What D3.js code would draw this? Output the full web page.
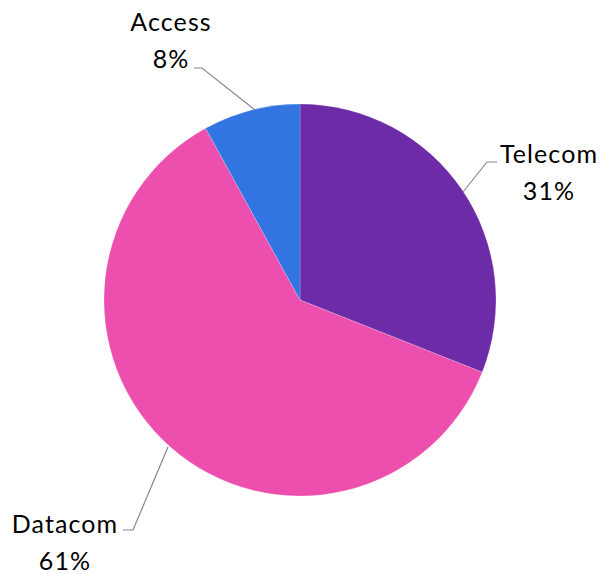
<!DOCTYPE html>
<html><head><meta charset="utf-8">
<script src="https://cdn.jsdelivr.net/npm/d3@7"></script>
<style>body{margin:0;background:#fff}</style>
</head><body>
<svg id="c" width="605" height="574"></svg>
<script>
const categories = ["Telecom", "Datacom", "Access"];
const values = [31, 61, 8];
const colors = ["#6E2BA8", "#EC4FAE", "#3274E1"];

const svg = d3.select("#c");
const cx = 300, cy = 300, r = 196;
const g = svg.append("g").attr("transform", `translate(${cx},${cy})`);

const pie = d3.pie().sort(null).value(d => d.v);
const data = pie(categories.map((c, i) => ({c, v: values[i], col: colors[i]})));
const arc = d3.arc().innerRadius(0).outerRadius(r);

g.selectAll("path.s").data(data).enter().append("path")
  .attr("d", arc).attr("fill", d => d.data.col)
  .attr("stroke", "#fff").attr("stroke-width", 0.5).attr("stroke-opacity", 0.4);

// leader lines & labels (positions relative to pie)
const labelCfg = {
  Telecom: {pt: [163, -108], bend: [187, -138], end: [197, -138], tx: 249, ty: -137},
  Datacom: {pt: [-132, 147], bend: [-167, 230], end: [-177, 230], tx: -235, ty: 233},
  Access:  {pt: [-45, -190], bend: [-98, -232], end: [-106, -232], tx: -129, ty: -269}
};

data.forEach(d => {
  const cfg = labelCfg[d.data.c];
  g.append("polyline")
    .attr("points", [cfg.pt, cfg.bend, cfg.end].map(p => p.join(",")).join(" "))
    .attr("fill", "none").attr("stroke", "#7F8A99").attr("stroke-width", 1.2);
  const t = g.append("text")
    .attr("text-anchor", "middle")
    .attr("font-family", "Lato, 'Open Sans', sans-serif")
    .attr("font-size", 25).attr("letter-spacing", 1.1).attr("fill", "#000");
  t.append("tspan").attr("x", cfg.tx).attr("y", cfg.ty).text(d.data.c);
  t.append("tspan").attr("x", cfg.tx).attr("y", cfg.ty + 37).text(d.data.v + "%");
});
</script>
</body></html>
